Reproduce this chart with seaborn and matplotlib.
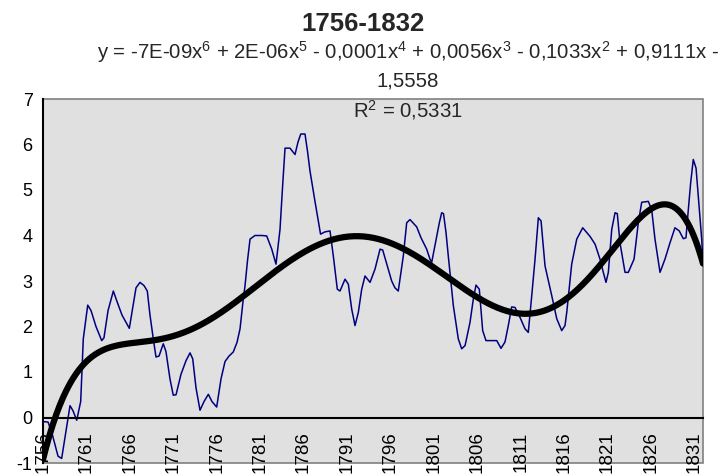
import numpy as np
import pandas as pd
import matplotlib
matplotlib.use('Agg')
import matplotlib.pyplot as plt
import seaborn as sns

# blue series as (year, value) points
years = [1756.00, 1756.58, 1757.04, 1757.73, 1758.15, 1758.65, 1759.11, 1759.45, 1759.88, 1760.34,
         1760.64, 1761.15, 1761.53, 1762.10, 1762.76, 1763.02, 1763.49, 1764.10, 1764.52, 1765.10,
         1765.94, 1766.36, 1766.71, 1767.17, 1767.63, 1768.01, 1768.32, 1768.70, 1769.01, 1769.36,
         1769.85, 1770.16, 1770.62, 1771.00, 1771.32, 1771.89, 1772.47, 1772.93, 1773.24, 1773.62,
         1774.08, 1774.54, 1775.04, 1775.46, 1776.00, 1776.50, 1776.96, 1777.42, 1777.91, 1778.34,
         1778.69, 1779.03, 1779.26, 1779.55, 1779.84, 1780.41, 1781.22, 1781.76, 1782.34, 1782.83,
         1783.06, 1783.29, 1783.58, 1783.87, 1784.44, 1785.02, 1785.36, 1785.68, 1786.17, 1786.46,
         1786.75, 1787.32, 1787.96, 1788.47, 1789.05, 1789.43, 1789.89, 1790.20, 1790.78, 1791.16,
         1791.55, 1791.93, 1792.31, 1792.70, 1793.08, 1793.66, 1794.23, 1794.81, 1795.12, 1795.76,
         1796.15, 1796.53, 1796.91, 1797.49, 1797.88, 1798.26, 1799.03, 1799.53, 1800.18, 1800.56,
         1800.76, 1801.34, 1801.64, 1801.91, 1802.12, 1802.41, 1802.67, 1803.25, 1803.82, 1804.21,
         1804.60, 1805.17, 1805.55, 1805.86, 1806.24, 1806.63, 1807.01, 1808.25, 1808.74, 1809.20,
         1809.58, 1809.97, 1810.35, 1810.93, 1811.50, 1811.88, 1812.28, 1812.66, 1813.04, 1813.35,
         1813.81, 1814.58, 1815.16, 1815.73, 1816.11, 1816.31, 1816.88, 1817.46, 1818.15, 1818.99,
         1819.57, 1820.14, 1820.52, 1820.83, 1821.10, 1821.49, 1821.87, 1822.13, 1822.44, 1823.02,
         1823.40, 1824.06, 1824.55, 1824.94, 1825.70, 1826.09, 1826.47, 1827.05, 1827.62, 1828.20,
         1828.77, 1829.27, 1829.73, 1830.04, 1830.31, 1830.58, 1830.88, 1831.20, 1831.46, 1831.85,
         1832.00]
values = [-0.09, -0.10, -0.35, -0.85, -0.90, -0.30, 0.26, 0.15, -0.06, 0.35,
          1.73, 2.47, 2.35, 2.00, 1.69, 1.75, 2.35, 2.78, 2.55, 2.25,
          1.96, 2.45, 2.85, 2.97, 2.90, 2.78, 2.25, 1.73, 1.33, 1.35,
          1.62, 1.45, 0.85, 0.49, 0.50, 0.95, 1.25, 1.42, 1.29, 0.65,
          0.16, 0.35, 0.51, 0.35, 0.23, 0.85, 1.23, 1.35, 1.44, 1.65,
          1.95, 2.55, 2.89, 3.45, 3.92, 4.00, 4.00, 3.99, 3.70, 3.37,
          3.75, 4.13, 5.05, 5.92, 5.92, 5.78, 6.05, 6.23, 6.23, 5.85,
          5.41, 4.75, 4.03, 4.08, 4.10, 3.55, 2.82, 2.78, 3.04, 2.93,
          2.38, 2.02, 2.31, 2.82, 3.11, 2.97, 3.26, 3.70, 3.68, 3.26,
          3.00, 2.85, 2.78, 3.55, 4.28, 4.35, 4.19, 3.95, 3.70, 3.48,
          3.41, 3.99, 4.28, 4.50, 4.48, 4.06, 3.55, 2.46, 1.73, 1.51,
          1.58, 2.09, 2.60, 2.91, 2.82, 1.91, 1.69, 1.69, 1.52, 1.66,
          2.02, 2.43, 2.42, 2.20, 1.95, 1.87, 2.68, 3.48, 4.39, 4.32,
          3.33, 2.68, 2.17, 1.91, 2.02, 2.31, 3.37, 3.92, 4.17, 3.98,
          3.81, 3.48, 3.19, 2.97, 3.19, 4.13, 4.50, 4.48, 3.84, 3.19,
          3.19, 3.48, 4.28, 4.73, 4.75, 4.57, 3.92, 3.19, 3.48, 3.84,
          4.17, 4.10, 3.93, 3.95, 4.57, 5.16, 5.67, 5.48, 4.86, 3.92,
          3.41]

title = '1756-1832'
eq_line1 = ('y = -7E-09x$^{6}$ + 2E-06x$^{5}$ - 0,0001x$^{4}$ + 0,0056x$^{3}$'
            ' - 0,1033x$^{2}$ + 0,9111x -')
eq_line2 = '1,5558'
eq_line3 = 'R$^{2}$ = 0,5331'

df = pd.DataFrame({'year': years, 'value': values})

# 6th order polynomial trend (as the spreadsheet trendline)
grid = np.linspace(1756, 1832, 400)
resampled = np.interp(grid, df['year'], df['value'])
poly = np.polynomial.Polynomial.fit(grid, resampled, 6)
trend = pd.DataFrame({'year': grid, 'value': poly(grid)})

sns.set_style('white')
plt.rcParams['font.family'] = ['Liberation Sans', 'DejaVu Sans']
plt.rcParams['mathtext.fontset'] = 'custom'
plt.rcParams['mathtext.rm'] = 'Liberation Sans'
plt.rcParams['mathtext.it'] = 'Liberation Sans'
plt.rcParams['axes.unicode_minus'] = False

fig = plt.figure(figsize=(7.26, 4.75), dpi=100)
ax = fig.add_axes([43 / 726, 12 / 475, 660 / 726, 364 / 475])
ax.set_facecolor('#e0e0e0')
ax.patch.set_edgecolor('#808080')
ax.patch.set_linewidth(1.2)

sns.lineplot(data=df, x='year', y='value', ax=ax, color='#000080',
             linewidth=1.1, estimator=None)
sns.lineplot(data=trend, x='year', y='value', ax=ax, color='black',
             linewidth=4.5, estimator=None)

ax.set_xlim(1756, 1832)
ax.set_ylim(-1, 7)
ax.set_xlabel('')
ax.set_ylabel('')

all_years = list(range(1756, 1833))
ax.set_xticks(all_years)
ax.set_xticklabels([str(y) if (y - 1756) % 5 == 0 and y < 1832 else '' for y in all_years])
ax.set_yticks(range(-1, 8))

for s in ['top', 'right']:
    ax.spines[s].set_visible(False)
ax.spines['bottom'].set_position(('data', 0))
ax.spines['bottom'].set_color('black')
ax.spines['bottom'].set_linewidth(1.5)
ax.spines['left'].set_color('black')
ax.spines['left'].set_linewidth(1.5)

ax.tick_params(axis='x', direction='inout', length=10, width=1.3, pad=5,
               labelsize=13.5, colors='black', labelrotation=90)
ax.tick_params(axis='y', direction='inout', length=9, width=1.3, pad=3,
               labelsize=13, colors='black')
for lab in ax.get_xticklabels():
    lab.set_va('top')
    lab.set_ha('center')

fig.text(363 / 726, 1 - 24 / 475, title, ha='center', va='center',
         fontsize=18.5, fontweight='bold')
fig.text(408 / 726, 1 - 52 / 475, eq_line1, ha='center', va='center', fontsize=14.7)
fig.text(408 / 726, 1 - 81 / 475, eq_line2, ha='center', va='center', fontsize=14.7)
fig.text(408 / 726, 1 - 110 / 475, eq_line3, ha='center', va='center', fontsize=14.7)

plt.savefig('out.png', dpi=100)
plt.close()
